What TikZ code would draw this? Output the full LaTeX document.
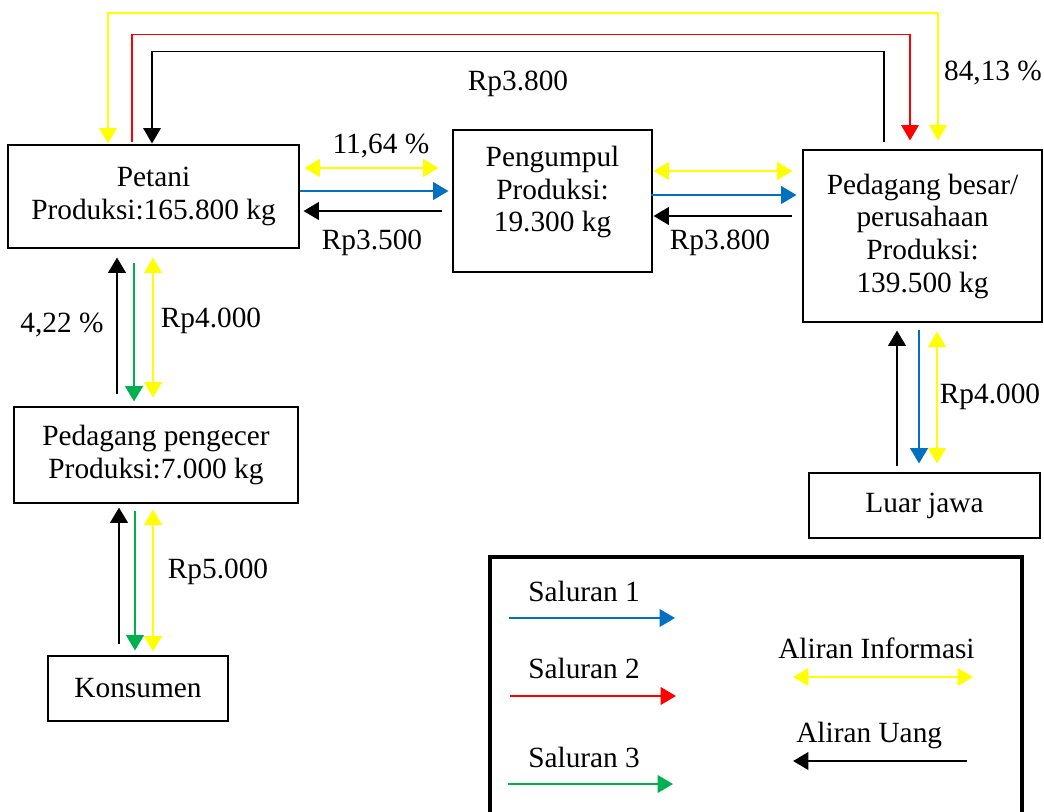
\documentclass[tikz,border=0pt]{standalone}
\usepackage{fontspec}
\setmainfont{Liberation Serif}
\usepackage{xcolor}
\usepackage{tikz}
\usetikzlibrary{positioning,arrows.meta,calc}
\definecolor{cinfo}{HTML}{FFFF00}
\definecolor{csal1}{HTML}{0070C0}
\definecolor{csal2}{HTML}{FF0000}
\definecolor{csal3}{HTML}{00B050}

\begin{document}
\begin{tikzpicture}[
  x=0.75pt, y=-0.75pt,
  font=\fontsize{22}{24.5}\selectfont,
  box/.style={draw, line width=2.2pt, align=center, inner sep=0pt},
  lbl/.style={inner sep=0pt},
  tip/.style={-{Triangle[length=11.5pt,width=13pt]}},
  sal1/.style={tip, draw=csal1, line width=2.1pt},
  sal2/.style={tip, draw=csal2, line width=2.1pt},
  sal3/.style={tip, draw=csal3, line width=2.1pt},
  uang/.style={tip, draw=black, line width=2.1pt},
  info/.style={{Triangle[length=11.5pt,width=13pt]}-{Triangle[length=11.5pt,width=13pt]}, draw=cinfo, line width=2.1pt},
]
\useasboundingbox (0,0) rectangle (1044,811);
\clip (0,0) rectangle (1044,811);

% ---------- lembaga ----------
\node[box, minimum width=218.25pt, minimum height=77.25pt] (petani) at (153.5,196.5) {Petani\\Produksi:165.800 kg};
\node[box, minimum width=149.25pt, minimum height=106.5pt] (pengumpul) at (552.5,201) {};
\node[lbl, align=center] (pengumpultxt) at (552.5,192) {Pengumpul\\Produksi:\\19.300 kg};
\node[box, minimum width=179.25pt, minimum height=129pt] (besar) at (922.5,236) {Pedagang besar/\\perusahaan\\Produksi:\\139.500 kg};
\node[box, minimum width=213pt, minimum height=72pt] (pengecer) at (156,455) {Pedagang pengecer\\Produksi:7.000 kg};
\node[box, minimum width=135pt, minimum height=48.75pt] (konsumen) at (138,688.5) {Konsumen};
\node[box, minimum width=173.25pt, minimum height=48.75pt] (luar) at (924.5,505.5) {Luar jawa};

% ---------- jalur atas ----------
\draw[info, line width=1.5pt] ($(petani.north)+(-45.5,0)$) |- ($(besar.north)+(15.5,-136)$) -- ($(besar.north)+(15.5,-8)$);
\draw[sal2, line width=1.2pt] ($(petani.north)+(-21.5,-2)$) |- ($(besar.north)+(-12.5,-114)$) -- ($(besar.north)+(-12.5,-8)$);
\draw[uang, line width=1.2pt] ($(besar.north)+(-38.5,-7)$) |- ($(petani.north)+(-1.5,-92)$) -- ($(petani.north)+(-1.5,0)$);
\node[lbl] (ltop) at (518,84) {Rp3.800};
\node[lbl] (lpersen) at (993,73) {84,13 \%};

% ---------- petani - pengumpul ----------
\draw[info] ($(petani.east)+(4,-28.5)$) -- ($(pengumpul.west)+(-13,-33)$);
\draw[sal1] ($(petani.east)+(0,-5.5)$) -- ($(pengumpul.west)+(-3,-10)$);
\draw[uang] ($(pengumpul.west)+(-10,10)$) -- ($(petani.east)+(3,14.5)$);
\node[lbl] (lpetpeng) at (381,146) {11,64 \%};
\node[lbl] (lrp35) at (372,243) {Rp3.500};

% ---------- pengumpul - pedagang besar ----------
\draw[info] ($(pengumpul.east)+(0,-30)$) -- ($(besar.west)+(-9,-65)$);
\draw[sal1] ($(pengumpul.east)+(-2,-6)$) -- ($(besar.west)+(-5,-41)$);
\draw[uang] ($(besar.west)+(-10,-20)$) -- ($(pengumpul.east)+(0,15)$);
\node[lbl] (lrp38) at (720,243) {Rp3.800};

% ---------- petani - pengecer ----------
\draw[uang] ($(pengecer.north)+(-39,-12)$) -- ($(petani.south)+(-36.5,8)$);
\draw[sal3] ($(petani.south)+(-19.5,14)$) -- ($(pengecer.north)+(-22,-4)$);
\draw[info] ($(petani.south)+(-0.5,8)$) -- ($(pengecer.north)+(-3,-8)$);
\node[lbl] (l422) at (62,325) {4,22 \%};
\node[lbl] (lrp40) at (211,321) {Rp4.000};

% ---------- pengecer - konsumen ----------
\draw[uang] ($(konsumen.north)+(-19,-11)$) -- ($(pengecer.south)+(-37,3)$);
\draw[sal3] ($(pengecer.south)+(-21,7)$) -- ($(konsumen.north)+(-3,-4)$);
\draw[info] ($(pengecer.south)+(-3,5)$) -- ($(konsumen.north)+(15,-3)$);
\node[lbl] (lrp50) at (218,572) {Rp5.000};

% ---------- pedagang besar - luar jawa ----------
\draw[uang] ($(luar.north)+(-27.5,-6)$) -- ($(besar.south)+(-25.5,7)$);
\draw[sal1] ($(besar.south)+(-3.5,7)$) -- ($(luar.north)+(-5.5,-8)$);
\draw[info] ($(besar.south)+(14.5,8)$) -- ($(luar.north)+(12.5,-8)$);
\node[lbl] (lrp40b) at (990,397) {Rp4.000};

% ---------- keterangan ----------
\node[draw, line width=3pt, minimum width=399pt, minimum height=225pt, anchor=north west, inner sep=0pt] (legend) at (488,555) {};
\node[lbl, anchor=base west] (ks1) at ($(legend.north west)+(40,46)$) {Saluran 1};
\node[lbl, anchor=base west] (ks2) at ($(legend.north west)+(40,123)$) {Saluran 2};
\node[lbl, anchor=base west] (ks3) at ($(legend.north west)+(40,212)$) {Saluran 3};
\node[lbl, anchor=base west] (kinfo) at ($(legend.north west)+(290,103)$) {Aliran Informasi};
\node[lbl, anchor=base west] (kuang) at ($(legend.north west)+(308,187)$) {Aliran Uang};
\draw[sal1] ($(legend.north west)+(21,63)$) -- ($(legend.north west)+(187,63)$);
\draw[sal2] ($(legend.north west)+(22,141)$) -- ($(legend.north west)+(188,141)$);
\draw[sal3] ($(legend.north west)+(20,229)$) -- ($(legend.north west)+(185,229)$);
\draw[info] ($(legend.north west)+(305,122)$) -- ($(legend.north west)+(485,122)$);
\draw[uang] ($(legend.north west)+(479,206)$) -- ($(legend.north west)+(305,206)$);
\end{tikzpicture}
\end{document}
